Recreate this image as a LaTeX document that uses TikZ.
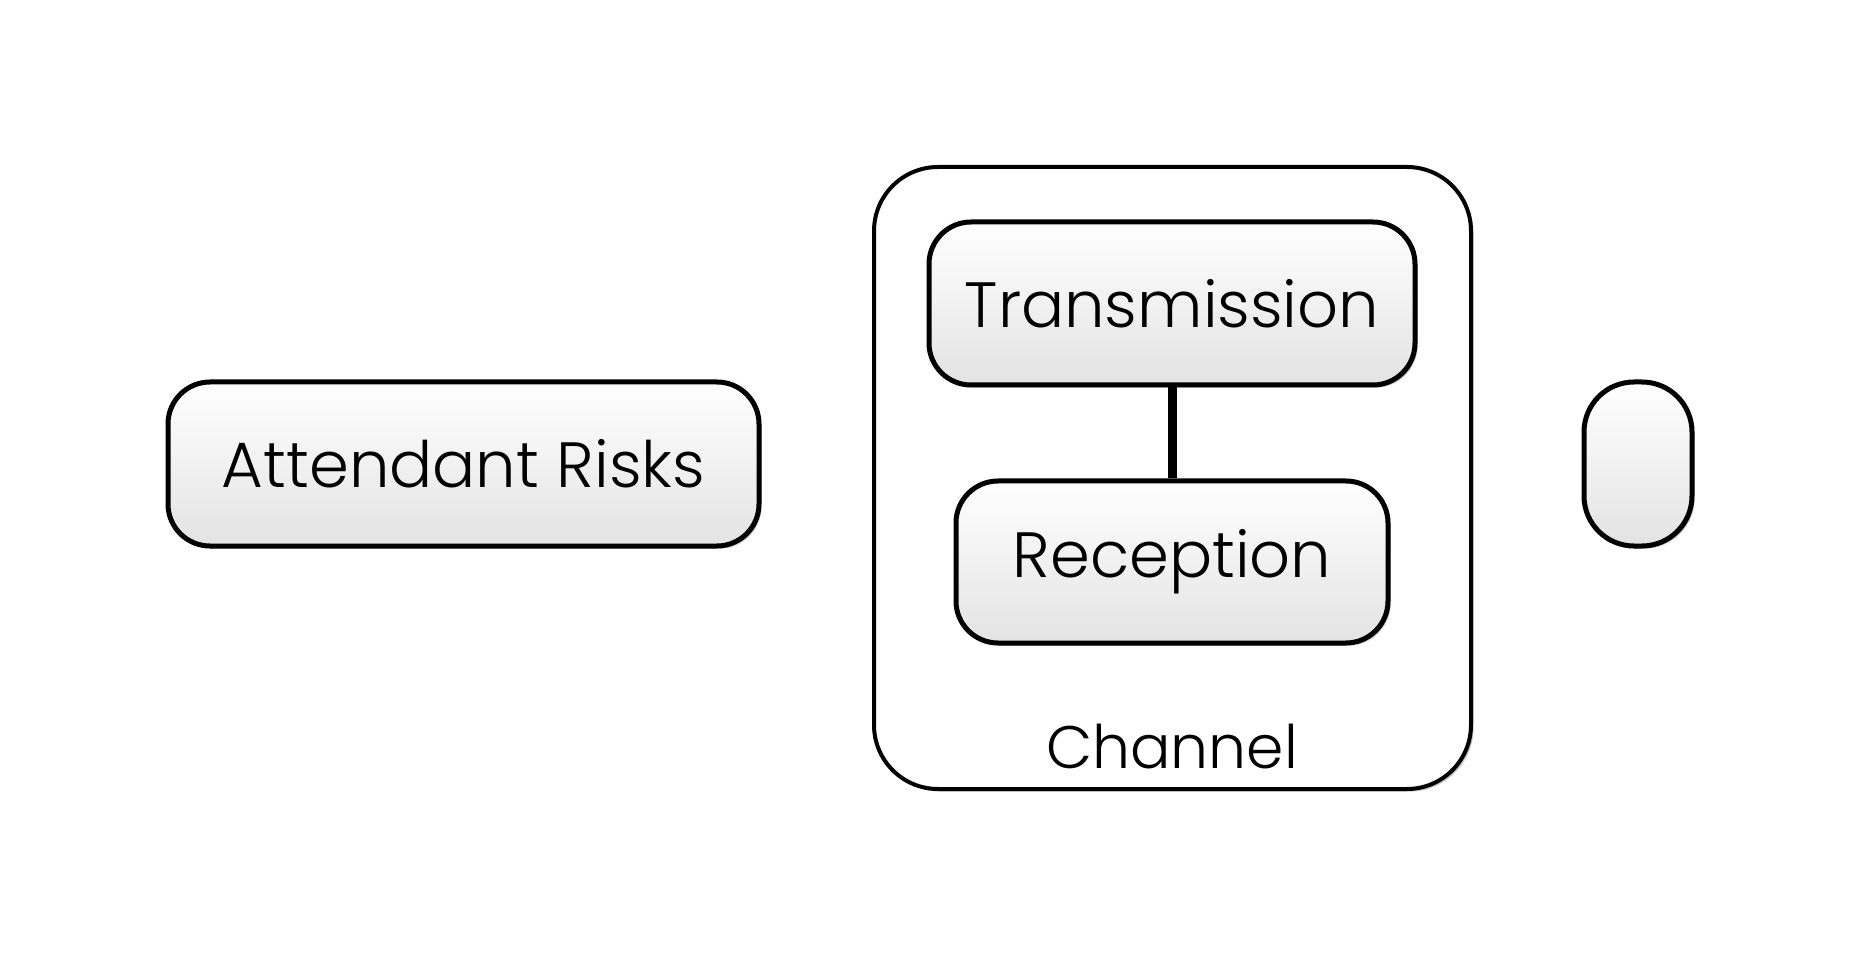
\documentclass[tikz,border=0pt]{standalone}
\usepackage{fontspec}
\setmainfont{Poppins}[UprightFont=* Light]
\usetikzlibrary{shadows}
\begin{document}
\begin{tikzpicture}[x=0.5pt,y=-0.5pt,
  box/.style={draw=black, line width=2.5pt, rounded corners=21pt,
    top color=white, bottom color=gray!22, inner sep=0pt,
    drop shadow={shadow xshift=1.3pt, shadow yshift=-1.3pt, opacity=0.45, fill=gray},
    font=\fontsize{32}{36}\selectfont},
  outerbox/.style={draw=black, line width=2pt, rounded corners=32pt, fill=white,
    drop shadow={shadow xshift=1.3pt, shadow yshift=-1.3pt, opacity=0.45, fill=gray}},
  link/.style={line width=4.5pt}
]
\useasboundingbox (0,0) rectangle (1860,957);
\node[box, minimum width=295.5pt, minimum height=82pt] (risks) at (463.5,464) {Attendant Risks};
\node[outerbox, minimum width=298.5pt, minimum height=311pt] (channel) at (1172.5,478) {};
\node[box, minimum width=243pt, minimum height=81.5pt] (trans) at (1172,303.5) {Transmission};
\node[box, minimum width=216pt, minimum height=81pt] (recep) at (1172,562) {Reception};
\node[font=\fontsize{30}{34}\selectfont] (chlabel) at (1172,747) {Channel};
\node[box, rounded corners=25pt, minimum width=54pt, minimum height=82pt] (small) at (1638,464) {};
\draw[link] (trans.south) -- (recep.north);
\end{tikzpicture}
\end{document}
